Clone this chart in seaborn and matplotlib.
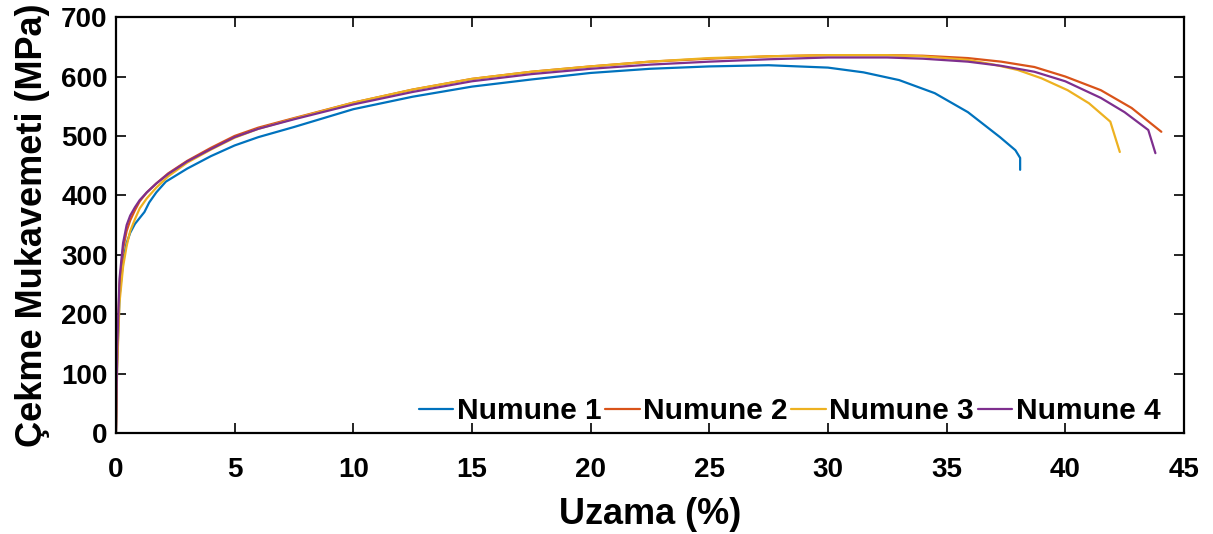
import matplotlib
matplotlib.use("Agg")
import matplotlib.pyplot as plt
import seaborn as sns
import pandas as pd

# ---- data ----
series_names = ["Numune 1", "Numune 2", "Numune 3", "Numune 4"]
colors = ["#0072BD", "#D95319", "#EDB120", "#7E2F8E"]

x1 = [0, 0.05, 0.15, 0.3, 0.45, 0.6, 0.8, 1.0, 1.2, 1.4, 1.7, 2.1, 3, 4, 5, 6, 7.5, 10, 12.5,
      15, 17.5, 20, 22.5, 25, 27.5, 30, 31.5, 33, 34.5, 35.9, 37.25, 37.9, 38.1, 38.1]
y1 = [0, 120, 230, 290, 320, 337, 352, 362, 372, 388, 405, 423, 445, 466, 484, 498, 515, 545, 566,
      583, 595, 606, 613, 617, 619, 615, 607, 594, 572, 540, 498, 476, 463, 443]

x2 = [0, 0.05, 0.15, 0.3, 0.45, 0.6, 0.8, 1.0, 1.3, 1.7, 2.2, 3, 4, 5, 6, 7.5, 10, 12.5, 15, 17.5,
      20, 22.5, 25, 27.5, 30, 32.5, 34, 35.9, 37.3, 38.7, 40, 41.5, 42.8, 44.05]
y2 = [0, 130, 250, 310, 340, 358, 375, 390, 405, 420, 437, 458, 480, 500, 514, 530, 556, 578, 596, 608,
      617, 625, 630, 634, 636, 636, 635, 631, 625, 616, 600, 577, 547, 507]

x3 = [0, 0.05, 0.15, 0.3, 0.45, 0.6, 0.8, 1.0, 1.3, 1.7, 2.2, 3, 4, 5, 6, 7.5, 10, 12.5, 15, 17.5,
      20, 22.5, 25, 27.5, 30, 32.5, 34, 35.9, 37, 38, 39, 40.1, 41, 41.9, 42.3]
y3 = [0, 110, 220, 280, 315, 340, 360, 378, 395, 413, 432, 455, 477, 497, 512, 529, 556, 578, 596, 608,
      617, 625, 631, 634, 636, 636, 634, 628, 620, 611, 597, 577, 555, 524, 473]

x4 = [0, 0.05, 0.15, 0.3, 0.45, 0.6, 0.8, 1.0, 1.3, 1.7, 2.2, 3, 4, 5, 6, 7.5, 10, 12.5, 15, 17.5,
      20, 22.5, 25, 27.5, 30, 32.5, 34, 35.9, 37.3, 38.7, 40, 41.5, 42.5, 43.5, 43.8]
y4 = [0, 140, 260, 320, 350, 366, 380, 392, 405, 420, 436, 457, 478, 498, 512, 528, 553, 574, 592, 604,
      613, 620, 625, 629, 632, 632, 630, 625, 618, 608, 592, 564, 540, 510, 471]

x_ticks = [0, 5, 10, 15, 20, 25, 30, 35, 40, 45]
y_ticks = [0, 100, 200, 300, 400, 500, 600, 700]
x_label = "Uzama (%)"
y_label = "Çekme Mukavemeti (MPa)"

# ---- build long table ----
frames = []
for name, xs, ys in zip(series_names, [x1, x2, x3, x4], [y1, y2, y3, y4]):
    frames.append(pd.DataFrame({"x": xs, "y": ys, "series": name}))
df = pd.concat(frames, ignore_index=True)

sns.set_theme(style="white")
plt.rcParams["font.family"] = ["Liberation Sans", "DejaVu Sans"]
plt.rcParams["font.weight"] = "bold"
for k in ["text.color", "axes.labelcolor", "xtick.color", "ytick.color", "axes.edgecolor"]:
    plt.rcParams[k] = "black"

fig = plt.figure(figsize=(12.13, 5.34), dpi=100)
ax = fig.add_axes([0.0956, 0.189, 0.8804, 0.779])

sns.lineplot(data=df, x="x", y="y", hue="series", hue_order=series_names,
             palette=colors, sort=False, estimator=None, units="series",
             linewidth=1.6, ax=ax)

ax.set_xlim(0, 45)
ax.set_ylim(0, 700)
ax.set_xticks(x_ticks)
ax.set_yticks(y_ticks)
ax.set_xticklabels([str(t) for t in x_ticks], fontsize=20, fontweight="bold")
ax.set_yticklabels([str(t) for t in y_ticks], fontsize=20, fontweight="bold")
ax.set_xlabel(x_label, fontsize=26, fontweight="bold", labelpad=10)
ax.set_ylabel(y_label, fontsize=26, fontweight="bold", labelpad=8)

for s in ax.spines.values():
    s.set_visible(True)
    s.set_color("black")
    s.set_linewidth(1.6)

ax.tick_params(axis="both", direction="in", length=7, width=1.2, top=True, right=True,
               bottom=True, left=True, colors="black")
ax.tick_params(axis="x", pad=17)
ax.tick_params(axis="y", pad=6)

leg = ax.legend(loc="lower right", bbox_to_anchor=(0.989, -0.01), ncol=4, frameon=False,
                handlelength=1.15, handletextpad=0.12, columnspacing=0.12,
                borderaxespad=0.0, prop={"weight": "bold", "size": 21.5})
for line in leg.get_lines():
    line.set_linewidth(1.6)

fig.savefig("out.png", dpi=100)
